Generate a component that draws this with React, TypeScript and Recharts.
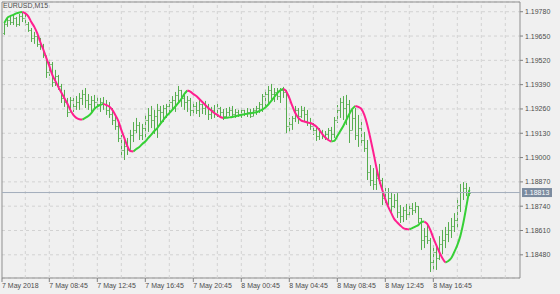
import React from 'react';
import {
  ComposedChart,
  Bar,
  Line,
  XAxis,
  YAxis,
  CartesianGrid,
  ReferenceLine,
  ReferenceArea,
} from 'recharts';

// EURUSD M15, one bar per 15 minutes; slot = quarter hours since 7 May 00:00
const SYMBOL = 'EURUSD,M15';
const FIRST_SLOT = 20; // 7 May 05:00

const OPEN = [
  1.19666, 1.19715, 1.19736, 1.19725, 1.19747, 1.19715, 1.19757, 1.19747, 1.19715, 1.19683,
  1.19640, 1.19650, 1.19608, 1.19597, 1.19549, 1.19458, 1.19501, 1.19404, 1.19436, 1.19383,
  1.19319, 1.19297, 1.19244, 1.19308, 1.19276, 1.19297, 1.19319, 1.19340, 1.19308, 1.19287,
  1.19308, 1.19297, 1.19287, 1.19297, 1.19287, 1.19255, 1.19233, 1.19201, 1.19169, 1.19105,
  1.19041, 1.19062, 1.19041, 1.19121, 1.19148, 1.19174, 1.19121, 1.19158, 1.19201, 1.19228,
  1.19201, 1.19222, 1.19255, 1.19244, 1.19265, 1.19276, 1.19297, 1.19308, 1.19335, 1.19362,
  1.19319, 1.19297, 1.19308, 1.19255, 1.19276, 1.19255, 1.19287, 1.19265, 1.19276, 1.19233,
  1.19255, 1.19233, 1.19265, 1.19244, 1.19222, 1.19244, 1.19255, 1.19233, 1.19244, 1.19233,
  1.19255, 1.19233, 1.19244, 1.19222, 1.19255, 1.19265, 1.19287, 1.19329, 1.19340, 1.19362,
  1.19340, 1.19351, 1.19329, 1.19362, 1.19351, 1.19169, 1.19180, 1.19212, 1.19255, 1.19222,
  1.19255, 1.19233, 1.19190, 1.19169, 1.19148, 1.19115, 1.19137, 1.19115, 1.19126, 1.19148,
  1.19126, 1.19201, 1.19255, 1.19297, 1.19265, 1.19287, 1.19148, 1.19212, 1.19121, 1.19158,
  1.19094, 1.19051, 1.18923, 1.18880, 1.18859, 1.18891, 1.18880, 1.18784, 1.18816, 1.18784,
  1.18741, 1.18773, 1.18709, 1.18687, 1.18720, 1.18698, 1.18730, 1.18720, 1.18741, 1.18677,
  1.18559, 1.18580, 1.18559, 1.18441, 1.18495, 1.18463, 1.18538, 1.18559, 1.18591, 1.18613,
  1.18634, 1.18666, 1.18746, 1.18816, 1.18837, 1.18816,
];

const HIGH = [
  1.19725, 1.19752, 1.19757, 1.19763, 1.19752, 1.19768, 1.19779, 1.19773, 1.19725, 1.19693,
  1.19672, 1.19661, 1.19640, 1.19608, 1.19543, 1.19522, 1.19511, 1.19469, 1.19442, 1.19394,
  1.19362, 1.19319, 1.19324, 1.19319, 1.19329, 1.19345, 1.19362, 1.19372, 1.19340, 1.19329,
  1.19335, 1.19324, 1.19319, 1.19324, 1.19308, 1.19297, 1.19265, 1.19228, 1.19190, 1.19121,
  1.19094, 1.19105, 1.19148, 1.19190, 1.19212, 1.19190, 1.19180, 1.19228, 1.19265, 1.19276,
  1.19255, 1.19287, 1.19276, 1.19281, 1.19287, 1.19308, 1.19329, 1.19351, 1.19383, 1.19362,
  1.19345, 1.19329, 1.19319, 1.19297, 1.19297, 1.19308, 1.19287, 1.19303, 1.19287, 1.19271,
  1.19281, 1.19287, 1.19271, 1.19260, 1.19265, 1.19271, 1.19276, 1.19260, 1.19255, 1.19265,
  1.19255, 1.19265, 1.19260, 1.19265, 1.19276, 1.19297, 1.19340, 1.19362, 1.19383, 1.19394,
  1.19372, 1.19372, 1.19372, 1.19378, 1.19362, 1.19212, 1.19222, 1.19276, 1.19265, 1.19276,
  1.19271, 1.19255, 1.19212, 1.19185, 1.19164, 1.19158, 1.19148, 1.19142, 1.19158, 1.19164,
  1.19217, 1.19281, 1.19319, 1.19329, 1.19335, 1.19308, 1.19255, 1.19265, 1.19228, 1.19190,
  1.19137, 1.19094, 1.18960, 1.18944, 1.18934, 1.18966, 1.18891, 1.18837, 1.18837, 1.18816,
  1.18805, 1.18810, 1.18746, 1.18736, 1.18752, 1.18752, 1.18757, 1.18762, 1.18741, 1.18677,
  1.18623, 1.18650, 1.18570, 1.18532, 1.18527, 1.18580, 1.18613, 1.18629, 1.18655, 1.18677,
  1.18703, 1.18784, 1.18859, 1.18869, 1.18864, 1.18843,
];

const LOW = [
  1.19656, 1.19699, 1.19709, 1.19709, 1.19699, 1.19704, 1.19725, 1.19704, 1.19672, 1.19618,
  1.19608, 1.19592, 1.19576, 1.19533, 1.19426, 1.19436, 1.19378, 1.19383, 1.19362, 1.19292,
  1.19271, 1.19217, 1.19244, 1.19244, 1.19255, 1.19255, 1.19281, 1.19265, 1.19255, 1.19244,
  1.19265, 1.19255, 1.19244, 1.19255, 1.19228, 1.19212, 1.19174, 1.19148, 1.19083, 1.18998,
  1.18987, 1.19014, 1.19041, 1.19083, 1.19131, 1.19094, 1.19094, 1.19105, 1.19137, 1.19158,
  1.19126, 1.19105, 1.19174, 1.19190, 1.19212, 1.19228, 1.19255, 1.19244, 1.19292, 1.19271,
  1.19255, 1.19244, 1.19222, 1.19222, 1.19233, 1.19217, 1.19233, 1.19228, 1.19201, 1.19206,
  1.19212, 1.19217, 1.19222, 1.19201, 1.19212, 1.19222, 1.19212, 1.19212, 1.19217, 1.19212,
  1.19222, 1.19217, 1.19212, 1.19222, 1.19228, 1.19238, 1.19244, 1.19276, 1.19292, 1.19308,
  1.19297, 1.19308, 1.19292, 1.19319, 1.19131, 1.19137, 1.19148, 1.19190, 1.19180, 1.19212,
  1.19190, 1.19169, 1.19148, 1.19121, 1.19089, 1.19094, 1.19099, 1.19094, 1.19099, 1.19089,
  1.19105, 1.19185, 1.19212, 1.19201, 1.19174, 1.19078, 1.19148, 1.19094, 1.19057, 1.19062,
  1.19030, 1.18880, 1.18848, 1.18827, 1.18827, 1.18859, 1.18746, 1.18757, 1.18746, 1.18709,
  1.18730, 1.18677, 1.18650, 1.18655, 1.18666, 1.18687, 1.18693, 1.18703, 1.18650, 1.18506,
  1.18516, 1.18538, 1.18388, 1.18399, 1.18399, 1.18452, 1.18484, 1.18516, 1.18548, 1.18570,
  1.18602, 1.18623, 1.18709, 1.18773, 1.18794, 1.18794,
];

const CLOSE = [
  1.19715, 1.19736, 1.19725, 1.19747, 1.19715, 1.19757, 1.19747, 1.19715, 1.19683, 1.19640,
  1.19650, 1.19608, 1.19597, 1.19549, 1.19458, 1.19501, 1.19404, 1.19436, 1.19383, 1.19319,
  1.19297, 1.19244, 1.19308, 1.19276, 1.19297, 1.19319, 1.19340, 1.19308, 1.19287, 1.19308,
  1.19297, 1.19287, 1.19297, 1.19287, 1.19255, 1.19233, 1.19201, 1.19169, 1.19105, 1.19041,
  1.19062, 1.19041, 1.19121, 1.19148, 1.19174, 1.19121, 1.19158, 1.19201, 1.19228, 1.19201,
  1.19222, 1.19255, 1.19244, 1.19265, 1.19276, 1.19297, 1.19308, 1.19335, 1.19362, 1.19319,
  1.19297, 1.19308, 1.19255, 1.19276, 1.19255, 1.19287, 1.19265, 1.19276, 1.19233, 1.19255,
  1.19233, 1.19265, 1.19244, 1.19222, 1.19244, 1.19255, 1.19233, 1.19244, 1.19233, 1.19255,
  1.19233, 1.19244, 1.19222, 1.19255, 1.19265, 1.19287, 1.19329, 1.19340, 1.19362, 1.19340,
  1.19351, 1.19329, 1.19362, 1.19351, 1.19169, 1.19180, 1.19212, 1.19255, 1.19222, 1.19255,
  1.19233, 1.19190, 1.19169, 1.19148, 1.19115, 1.19137, 1.19115, 1.19126, 1.19148, 1.19126,
  1.19201, 1.19255, 1.19297, 1.19265, 1.19287, 1.19148, 1.19212, 1.19121, 1.19158, 1.19094,
  1.19051, 1.18923, 1.18880, 1.18859, 1.18891, 1.18880, 1.18784, 1.18816, 1.18784, 1.18741,
  1.18773, 1.18709, 1.18687, 1.18720, 1.18698, 1.18730, 1.18720, 1.18741, 1.18677, 1.18559,
  1.18580, 1.18559, 1.18441, 1.18495, 1.18463, 1.18538, 1.18559, 1.18591, 1.18613, 1.18634,
  1.18666, 1.18746, 1.18816, 1.18837, 1.18816, 1.18813,
];

// smoothed average drawn over the bars (green while rising, pink while falling)
const SMOOTH = [
  1.19720, 1.19747, 1.19757, 1.19763, 1.19771, 1.19776, 1.19779, 1.19771, 1.19755, 1.19725,
  1.19699, 1.19664, 1.19618, 1.19578, 1.19533, 1.19490, 1.19442, 1.19410, 1.19378, 1.19348,
  1.19319, 1.19289, 1.19255, 1.19228, 1.19212, 1.19205, 1.19203, 1.19212, 1.19222, 1.19238,
  1.19260, 1.19273, 1.19281, 1.19287, 1.19281, 1.19273, 1.19255, 1.19228, 1.19196, 1.19148,
  1.19105, 1.19062, 1.19035, 1.19032, 1.19046, 1.19057, 1.19073, 1.19086, 1.19105, 1.19123,
  1.19142, 1.19158, 1.19180, 1.19201, 1.19222, 1.19238, 1.19255, 1.19273, 1.19292, 1.19313,
  1.19340, 1.19359, 1.19353, 1.19340, 1.19329, 1.19313, 1.19297, 1.19281, 1.19265, 1.19252,
  1.19238, 1.19228, 1.19217, 1.19212, 1.19213, 1.19215, 1.19217, 1.19221, 1.19225, 1.19228,
  1.19232, 1.19235, 1.19237, 1.19240, 1.19242, 1.19249, 1.19257, 1.19268, 1.19284, 1.19303,
  1.19324, 1.19345, 1.19359, 1.19367, 1.19353, 1.19319, 1.19276, 1.19238, 1.19212, 1.19198,
  1.19193, 1.19188, 1.19185, 1.19177, 1.19166, 1.19148, 1.19126, 1.19107, 1.19094, 1.19086,
  1.19089, 1.19115, 1.19142, 1.19169, 1.19201, 1.19233, 1.19260, 1.19276, 1.19271, 1.19260,
  1.19228, 1.19174, 1.19105, 1.19030, 1.18950, 1.18880, 1.18827, 1.18778, 1.18736, 1.18703,
  1.18671, 1.18653, 1.18637, 1.18623, 1.18618, 1.18616, 1.18623, 1.18631, 1.18639, 1.18655,
  1.18658, 1.18645, 1.18613, 1.18570, 1.18532, 1.18495, 1.18463, 1.18439, 1.18447, 1.18463,
  1.18495, 1.18532, 1.18580, 1.18650, 1.18736, 1.18827,
];

const LAST_PRICE = 1.18813;
const PRICE_TICKS = [1.1978, 1.1965, 1.1952, 1.1939, 1.1926, 1.1913, 1.19, 1.1887, 1.1874, 1.1861, 1.1848];

const X_MIN = 19.23;
const X_MAX = 191.9;
const Y_MIN = 1.18356;
const Y_MAX = 1.19832;

const TIME_TICKS = [X_MIN, 35, 51, 67, 83, 99, 115, 131, 147, 163];
const TIME_LABELS = [
  '7 May 2018', '7 May 08:45', '7 May 12:45', '7 May 16:45', '7 May 20:45',
  '8 May 00:45', '8 May 04:45', '8 May 08:45', '8 May 12:45', '8 May 16:45',
];

const FONT = '"Liberation Sans", Arial, sans-serif';
const TEXT = '#4d4d4d';
const BAR_COLOR = '#56ad4f';
const UP_COLOR = '#36d036';
const DOWN_COLOR = '#ff1f8f';
const GRID = '#d2d2d2';

const GRID_SLOTS = Array.from({ length: 21 }, (_, i) => 27 + 8 * i);

const rises = (j: number) => j > 0 && j < SMOOTH.length && SMOOTH[j] > SMOOTH[j - 1];
const falls = (j: number) => j > 0 && j < SMOOTH.length && SMOOTH[j] < SMOOTH[j - 1];

const rows = OPEN.map((open, j) => ({
  k: FIRST_SLOT + j,
  open,
  high: HIGH[j],
  low: LOW[j],
  close: CLOSE[j],
  range: [LOW[j], HIGH[j]],
  up: rises(j) || rises(j + 1) ? SMOOTH[j] : null,
  down: falls(j) || falls(j + 1) ? SMOOTH[j] : null,
}));

const OhlcBar = (props: any) => {
  const { x, y, width, height, payload } = props;
  if (x == null || y == null) return null;
  const top = Math.min(y, y + height);
  const h = Math.abs(height);
  const span = payload.high - payload.low || 1e-9;
  const toY = (v: number) => top + ((payload.high - v) / span) * h;
  const cx = Math.round(x + width / 2) + 0.5;
  const yo = Math.round(toY(payload.open)) + 0.5;
  const yc = Math.round(toY(payload.close)) + 0.5;
  return (
    <g stroke={BAR_COLOR} strokeWidth={1}>
      <line x1={cx} x2={cx} y1={top} y2={top + Math.max(h, 1)} />
      <line x1={cx - 1.2} x2={cx} y1={yo} y2={yo} />
      <line x1={cx} x2={cx + 1.2} y1={yc} y2={yc} />
    </g>
  );
};

const PriceTick = ({ x, y, payload }: any) => (
  <g>
    <line x1={x} x2={x + 3} y1={y} y2={y} stroke="#808080" />
    <text x={x + 5} y={y + 2.5} fontSize={7} fill={TEXT} fontFamily={FONT}>
      {Number(payload.value).toFixed(5)}
    </text>
  </g>
);

const TimeTick = ({ x, y, payload }: any) => {
  const i = TIME_TICKS.indexOf(payload.value);
  return (
    <g>
      <line x1={x} x2={x} y1={y} y2={y + 4} stroke="#808080" />
      <text x={x} y={y + 10} fontSize={7} fill={TEXT} fontFamily={FONT}>
        {TIME_LABELS[i]}
      </text>
    </g>
  );
};

const PriceTag = ({ viewBox }: any) => {
  if (!viewBox) return null;
  const left = viewBox.x + viewBox.width + 2;
  return (
    <g>
      <rect x={left} y={viewBox.y - 4.5} width={30} height={9} fill="#7b8b9f" />
      <text x={left + 2} y={viewBox.y + 2.5} fontSize={7} fill="#ffffff" fontFamily={FONT}>
        {LAST_PRICE.toFixed(5)}
      </text>
    </g>
  );
};

export default function App() {
  return (
    <div style={{ position: 'absolute', left: 0, top: 0, width: 560, height: 294, background: '#f0f0f0' }}>
      <ComposedChart width={560} height={294} data={rows} margin={{ top: 2, right: 0, bottom: 0, left: 2 }}>
        <CartesianGrid vertical={false} stroke={GRID} strokeDasharray="3 3" />
        {GRID_SLOTS.map((s) => (
          <ReferenceLine key={s} x={s} stroke={GRID} strokeDasharray="3 3" />
        ))}
        <XAxis
          type="number"
          dataKey="k"
          domain={[X_MIN, X_MAX]}
          allowDataOverflow
          ticks={TIME_TICKS}
          interval={0}
          height={16}
          tickSize={0}
          tickMargin={0}
          tickLine={false}
          axisLine={false}
          tick={<TimeTick />}
        />
        <YAxis
          orientation="right"
          type="number"
          domain={[Y_MIN, Y_MAX]}
          allowDataOverflow
          ticks={PRICE_TICKS}
          interval={0}
          width={40}
          tickSize={0}
          tickMargin={0}
          tickLine={false}
          axisLine={false}
          tick={<PriceTick />}
        />
        <Bar dataKey="range" barSize={3} shape={(p: any) => <OhlcBar {...p} />} isAnimationActive={false} />
        <Line dataKey="up" type="monotone" stroke={UP_COLOR} strokeWidth={2} dot={false} connectNulls={false} isAnimationActive={false} />
        <Line dataKey="down" type="monotone" stroke={DOWN_COLOR} strokeWidth={2} dot={false} connectNulls={false} isAnimationActive={false} />
        <ReferenceLine y={LAST_PRICE} stroke="#a3adbb" strokeWidth={1} label={<PriceTag />} />
        <ReferenceArea x1={X_MIN} x2={X_MAX} y1={Y_MIN} y2={Y_MAX} fill="none" stroke="#8f8f8f" ifOverflow="visible" />
      </ComposedChart>
      <div style={{ position: 'absolute', left: 3, top: 2, fontSize: 7, lineHeight: '8px', color: TEXT, fontFamily: FONT }}>
        {SYMBOL}
      </div>
    </div>
  );
}
